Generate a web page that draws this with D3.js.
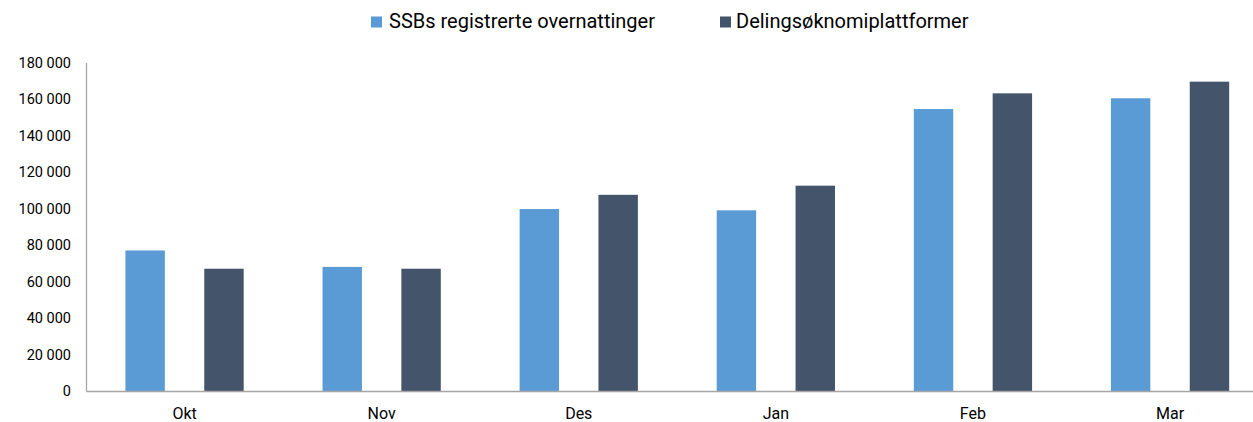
<!DOCTYPE html>
<html><head><meta charset="utf-8">
<script src="https://cdn.jsdelivr.net/npm/d3@7"></script>
<style>body{margin:0;background:#fff}svg{display:block}</style>
</head><body>
<svg id="c" width="1253" height="422"></svg>
<script>
const categories = ["Okt","Nov","Des","Jan","Feb","Mar"];
const seriesNames = ["SSBs registrerte overnattinger","Delingsøknomiplattformer"];
const ssbValues = [77000, 68000, 99700, 99000, 154500, 160400];
const delingValues = [67000, 67000, 107500, 112500, 163100, 169500];
const yTicks = [0,20000,40000,60000,80000,100000,120000,140000,160000,180000];
const colors = ["#5B9BD5","#44546A"];

const svg = d3.select("#c");
const font = "Roboto, 'Liberation Sans', sans-serif";
const x0 = d3.scaleBand().domain(categories).range([86, 1268.6]).paddingInner(0).paddingOuter(0);
const x1 = d3.scaleBand().domain([0,1]).range([0, x0.bandwidth()]).paddingInner(0.5).paddingOuter(0.5);
const y = d3.scaleLinear().domain([0,180000]).range([391, 62.5]);

const fmt = v => d3.format(",")(v).replace(/,/g, " ");

// y axis
const ya = svg.append("g").attr("transform","translate(86,0)")
  .call(d3.axisLeft(y).tickValues(yTicks).tickSize(0).tickPadding(15).tickFormat(fmt));
ya.select(".domain").attr("stroke","#A6A6A6").attr("stroke-width",1.3);
ya.selectAll("text").attr("font-family",font).attr("font-size","14.5px").attr("fill","#000");

const data = categories.map((c,i)=>({c, v:[ssbValues[i], delingValues[i]]}));
const g = svg.append("g");
data.forEach(d=>{
  d.v.forEach((v,k)=>{
    g.append("rect")
      .attr("x", x0(d.c)+x1(k))
      .attr("width", x1.bandwidth())
      .attr("y", y(v))
      .attr("height", y(0)-y(v))
      .attr("fill", colors[k]);
  });
});

// x axis
const xa = svg.append("g").attr("transform","translate(0,391)")
  .call(d3.axisBottom(x0).tickSize(0).tickPadding(17));
xa.select(".domain").attr("stroke","#A6A6A6").attr("stroke-width",1.3);
xa.selectAll("text").attr("font-family",font).attr("font-size","16px").attr("fill","#000");

// legend
const legendPos = [{sx:371, tx:389}, {sx:720, tx:736}];
seriesNames.forEach((n,k)=>{
  svg.append("rect").attr("x",legendPos[k].sx).attr("y",16.5).attr("width",11).attr("height",11).attr("fill",colors[k]);
  svg.append("text").attr("x",legendPos[k].tx).attr("y",27.5).attr("font-family",font)
    .attr("font-size","20px").attr("fill","#000").text(n);
});
</script>
</body></html>
